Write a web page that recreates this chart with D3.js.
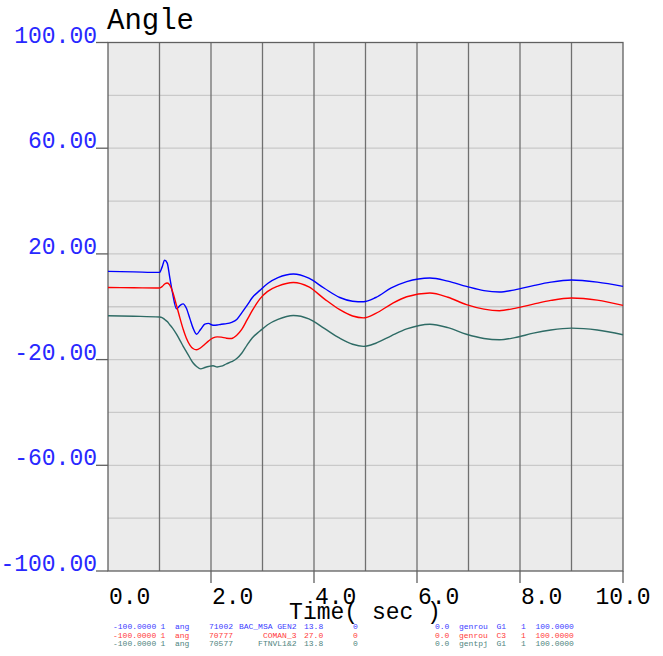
<!DOCTYPE html>
<html>
<head>
<meta charset="utf-8">
<script src="https://cdn.jsdelivr.net/npm/d3@7"></script>
<style>
  html, body { margin: 0; padding: 0; background: #ffffff; }
  svg { display: block; }
</style>
</head>
<body>
<svg id="chart" width="663" height="656"></svg>
<script>
// Rotor angle traces (degrees) against simulation time (seconds)
const times = [0, 0.5, 1.0, 1.05, 1.1, 1.15, 1.2, 1.25, 1.33, 1.4, 1.46, 1.52, 1.59, 1.65, 1.72,
  1.8, 1.88, 1.95, 2.04, 2.12, 2.2, 2.3, 2.4, 2.5, 2.6, 2.7, 2.8, 2.95, 3.1, 3.3, 3.6, 3.9,
  4.2, 4.5, 4.75, 4.96, 5.2, 5.5, 5.8, 6.25, 6.6, 6.96, 7.3, 7.6, 7.9, 8.26, 8.6, 9.0, 9.5, 10.0];

const angleGen2 = [13.4, 13.2, 13.0, 15.0, 17.6, 16.5, 11.0, 5.5, -0.8, 0.5, 1.1, -0.5, -4.5, -8.0, -10.4,
  -8.5, -6.6, -6.3, -7.0, -6.9, -6.6, -6.4, -5.9, -4.8, -2.2, 0.5, 3.4, 6.2, 8.8, 11.0, 12.4, 10.8,
  7.0, 3.5, 2.1, 1.9, 3.5, 7.1, 9.5, 10.9, 9.7, 7.7, 6.1, 5.6, 6.4, 8.0, 9.3, 10.1, 9.3, 7.7];

const angleComan3 = [7.3, 7.2, 7.1, 7.6, 8.6, 9.0, 8.2, 6.0, 0.5, -4.5, -8.5, -11.8, -14.5, -15.8, -16.3,
  -15.5, -14.2, -13.0, -11.8, -11.4, -11.5, -11.9, -12.0, -10.8, -8.5, -5.0, -1.5, 3.0, 5.8, 7.8, 9.2, 7.5,
  3.0, -1.1, -3.5, -4.2, -2.5, 1.0, 3.8, 5.2, 3.6, 0.8, -0.9, -1.5, -0.6, 1.0, 2.4, 3.3, 2.5, 0.5];

const angleFtnvl = [-3.4, -3.6, -3.9, -4.1, -4.8, -5.6, -6.8, -8.0, -10.4, -12.8, -15.0, -17.0, -19.3, -21.2, -22.6,
  -23.5, -23.0, -22.6, -22.3, -22.8, -22.5, -21.6, -20.8, -19.6, -17.5, -14.5, -11.8, -9.2, -6.8, -4.8, -3.3, -4.6,
  -8.2, -11.9, -14.2, -15.0, -13.8, -11.0, -8.4, -6.6, -7.9, -10.4, -12.0, -12.5, -11.7, -10.0, -8.8, -8.1, -8.8, -10.6];

const seriesColors = ["#0000ff", "#ff0000", "#2e6b65"];
const seriesValues = [angleGen2, angleComan3, angleFtnvl];

const xTickValues = [0, 2, 4, 6, 8, 10];
const xTickLabels = ["0.0", "2.0", "4.0", "6.0", "8.0", "10.0"];
const yTickValues = [100, 60, 20, -20, -60, -100];
const yTickLabels = ["100.00", "60.00", "20.00", "-20.00", "-60.00", "-100.00"];
const yGridValues = [80, 60, 40, 20, 0, -20, -40, -60, -80];
const xGridValues = [1, 2, 3, 4, 5, 6, 7, 8, 9];

// Channel description rows printed under the plot
const legendMin = ["-100.0000", "-100.0000", "-100.0000"];
const legendIdx = ["1", "1", "1"];
const legendQty = ["ang", "ang", "ang"];
const legendBus = ["71002", "70777", "70577"];
const legendName = ["BAC_MSA GEN2", "COMAN_3", "FTNVL1&2"];
const legendKv = ["13.8", "27.0", "13.8"];
const legendArea = ["0", "0", "0"];
const legendOffset = ["0.0", "0.0", "0.0"];
const legendModel = ["genrou", "genrou", "gentpj"];
const legendId = ["G1", "C3", "G1"];
const legendMult = ["1", "1", "1"];
const legendMax = ["100.0000", "100.0000", "100.0000"];
const legendTextColors = ["#3c3cff", "#ff3c3c", "#4f8580"];

const mono = "'Liberation Mono', 'Courier New', monospace";

const svg = d3.select("#chart");
const plotLeft = 108, plotRight = 623, plotTop = 42.5, plotBottom = 571;

const x = d3.scaleLinear().domain([0, 10]).range([plotLeft, plotRight]);
const y = d3.scaleLinear().domain([-100, 100]).range([plotBottom, plotTop]);

// Plot background
svg.append("rect")
  .attr("x", plotLeft).attr("y", plotTop)
  .attr("width", plotRight - plotLeft).attr("height", plotBottom - plotTop)
  .attr("fill", "#ebebeb");

// Horizontal grid
svg.append("g").selectAll("line").data(yGridValues).join("line")
  .attr("x1", plotLeft).attr("x2", plotRight)
  .attr("y1", d => y(d)).attr("y2", d => y(d))
  .attr("stroke", "#c9c9c9").attr("stroke-width", 1.3);

// Vertical grid
svg.append("g").selectAll("line").data(xGridValues).join("line")
  .attr("x1", d => x(d)).attr("x2", d => x(d))
  .attr("y1", plotTop).attr("y2", plotBottom)
  .attr("stroke", "#707070").attr("stroke-width", 1.3);

// Frame
svg.append("rect")
  .attr("x", plotLeft).attr("y", plotTop)
  .attr("width", plotRight - plotLeft).attr("height", plotBottom - plotTop)
  .attr("fill", "none").attr("stroke", "#606060").attr("stroke-width", 1.3);

// Traces
const line = d3.line()
  .x((d, i) => x(times[i]))
  .y(d => y(d))
  .curve(d3.curveMonotoneX);

svg.append("g").selectAll("path").data(seriesValues).join("path")
  .attr("d", d => line(d))
  .attr("fill", "none")
  .attr("stroke", (d, i) => seriesColors[i])
  .attr("stroke-width", 1.4);

// Y axis ticks and labels
const yAxis = svg.append("g");
yAxis.selectAll("line").data(yTickValues).join("line")
  .attr("x1", 96).attr("x2", plotLeft)
  .attr("y1", d => y(d)).attr("y2", d => y(d))
  .attr("stroke", "#606060").attr("stroke-width", 1.3);
yAxis.selectAll("text").data(yTickValues).join("text")
  .attr("x", 97).attr("y", d => y(d))
  .attr("text-anchor", "end")
  .attr("font-family", mono).attr("font-size", 23)
  .attr("fill", "#2828ff")
  .text((d, i) => yTickLabels[i]);

// X axis ticks and labels
const xAxis = svg.append("g");
xAxis.selectAll("line").data(xTickValues.filter(d => d > 0)).join("line")
  .attr("x1", d => x(d)).attr("x2", d => x(d))
  .attr("y1", plotBottom).attr("y2", plotBottom + 12)
  .attr("stroke", "#606060").attr("stroke-width", 1.3);
xAxis.selectAll("text").data(xTickValues).join("text")
  .attr("x", (d, i) => i === xTickValues.length - 1 ? x(d) : x(d) + 1)
  .attr("y", 604)
  .attr("text-anchor", (d, i) => i === xTickValues.length - 1 ? "middle" : "start")
  .attr("font-family", mono).attr("font-size", 23)
  .attr("fill", "#000")
  .text((d, i) => xTickLabels[i]);

svg.append("text")
  .attr("x", 365).attr("y", 619)
  .attr("text-anchor", "middle")
  .attr("font-family", mono).attr("font-size", 23)
  .attr("fill", "#000")
  .text("Time( sec )");

// Title
svg.append("text")
  .attr("x", 107).attr("y", 29)
  .attr("font-family", mono).attr("font-size", 29)
  .attr("fill", "#000")
  .text("Angle");

// Channel rows
const cols = [
  { vals: legendMin, x: 113, anchor: "start" },
  { vals: legendIdx, x: 160.5, anchor: "start" },
  { vals: legendQty, x: 175, anchor: "start" },
  { vals: legendBus, x: 209, anchor: "start" },
  { vals: legendName, x: 296.5, anchor: "end" },
  { vals: legendKv, x: 304, anchor: "start" },
  { vals: legendArea, x: 353, anchor: "start" },
  { vals: legendOffset, x: 435, anchor: "start" },
  { vals: legendModel, x: 459, anchor: "start" },
  { vals: legendId, x: 496.5, anchor: "start" },
  { vals: legendMult, x: 521, anchor: "start" },
  { vals: legendMax, x: 535.5, anchor: "start" }
];
const rowY = [629, 637.5, 646];
const legend = svg.append("g");
legendMin.forEach((_, r) => {
  cols.forEach(c => {
    legend.append("text")
      .attr("x", c.x).attr("y", rowY[r])
      .attr("text-anchor", c.anchor)
      .attr("font-family", mono).attr("font-size", 8)
      .attr("fill", legendTextColors[r])
      .text(c.vals[r]);
  });
});
</script>
</body>
</html>
